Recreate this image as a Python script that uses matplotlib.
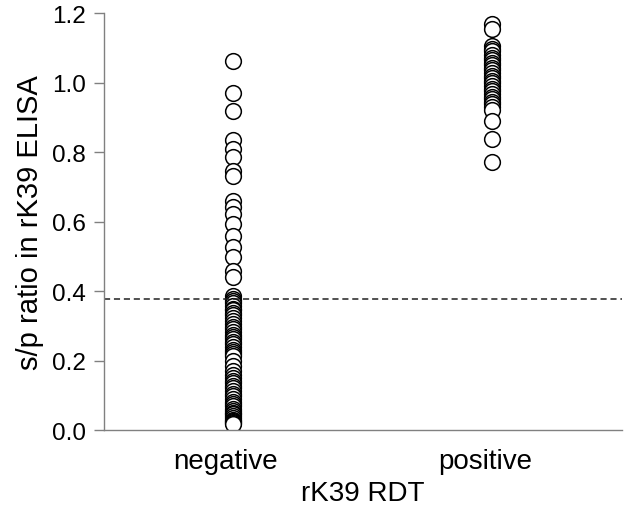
import matplotlib
matplotlib.use("Agg")
import matplotlib.pyplot as plt

plt.rcParams['font.family'] = ['Liberation Sans', 'DejaVu Sans']

categories = ["negative", "positive"]
negative_values = [1.063, 0.970, 0.918, 0.835, 0.809, 0.785, 0.746, 0.732,
                   0.660, 0.641, 0.622, 0.593, 0.559, 0.527, 0.498, 0.458, 0.440,
                   0.386, 0.377, 0.372, 0.365, 0.358, 0.350, 0.345, 0.338, 0.330,
                   0.322, 0.315, 0.305, 0.298, 0.290, 0.282, 0.275, 0.268, 0.262,
                   0.255, 0.248, 0.240, 0.232, 0.225, 0.218, 0.212, 0.200, 0.185,
                   0.170, 0.160, 0.150, 0.142, 0.135, 0.128, 0.120, 0.112, 0.105,
                   0.098, 0.090, 0.082, 0.075, 0.068, 0.062, 0.055, 0.050, 0.045,
                   0.040, 0.035, 0.030, 0.027, 0.024, 0.021, 0.018]
positive_values = [1.168, 1.155, 1.105, 1.098, 1.090, 1.080, 1.072, 1.065, 1.058,
                   1.050, 1.042, 1.035, 1.028, 1.020, 1.012, 1.005, 0.998, 0.990,
                   0.982, 0.975, 0.968, 0.960, 0.952, 0.945, 0.938, 0.930, 0.920,
                   0.890, 0.838, 0.773]
cutoff = 0.377
yticks = [0.0, 0.2, 0.4, 0.6, 0.8, 1.0, 1.2]

fig = plt.figure(figsize=(6.26, 5.06), dpi=100)
ax = fig.add_axes([0.166, 0.148, 0.828, 0.824])

offset = 0.027
for i, vals in enumerate([negative_values, positive_values]):
    ax.plot([i + 1 + offset] * len(vals), vals, linestyle='none', marker='o',
            markersize=11.3, markerfacecolor='white', markeredgecolor='black',
            markeredgewidth=1.1)

ax.axhline(cutoff, color='#202020', linestyle=(0, (4, 2.5)), linewidth=1.1)

ax.set_xlim(0.529, 2.529)
ax.set_ylim(0, 1.2)
ax.set_xticks([1, 2])
ax.set_xticklabels(categories, fontsize=20)
ax.set_yticks(yticks)
ax.set_yticklabels([f"{v:.1f}" for v in yticks], fontsize=17.5)
ax.tick_params(axis='x', length=0, pad=13)
ax.tick_params(axis='y', length=7, color='#808080', width=1, pad=6)
for s in ['top', 'right']:
    ax.spines[s].set_visible(False)
for s in ['left', 'bottom']:
    ax.spines[s].set_color('#808080')
    ax.spines[s].set_linewidth(1)
ax.set_xlabel("rK39 RDT", fontsize=20, labelpad=4)
ax.set_ylabel("s/p ratio in rK39 ELISA", fontsize=21, labelpad=6)

fig.savefig("out.png", dpi=100)
